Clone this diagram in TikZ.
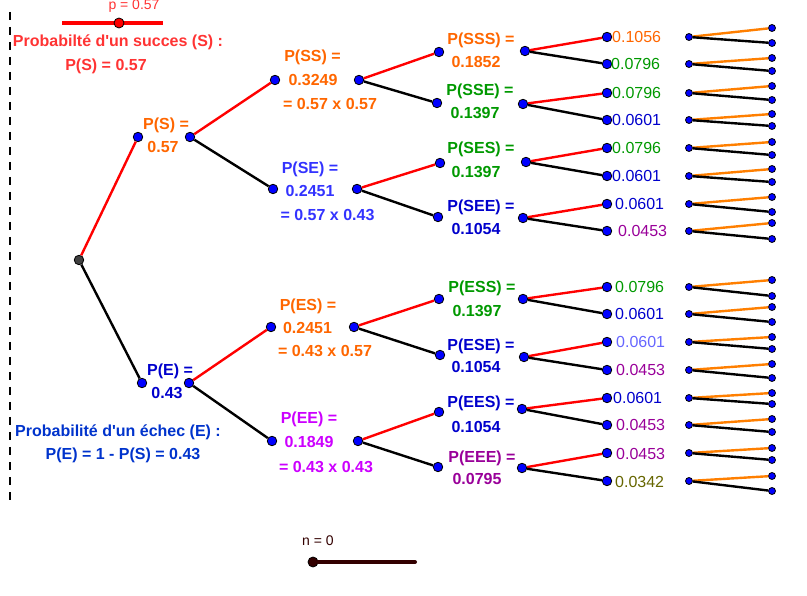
\documentclass[tikz,border=0pt]{standalone}
\usepackage{fontspec}
\setmainfont{Liberation Sans}[Ligatures=TeXOff]
\usepackage{tikz}
\usetikzlibrary{positioning}
\usepackage{xcolor}
\definecolor{ggRed}{RGB}{255,0,0}
\definecolor{txtRed}{RGB}{255,51,51}
\definecolor{ggOrange}{RGB}{255,102,0}
\definecolor{ggGreen}{RGB}{0,153,0}
\definecolor{ggBlue}{RGB}{0,0,204}
\definecolor{ggEchec}{RGB}{0,51,204}
\definecolor{ggViolet}{RGB}{51,51,255}
\definecolor{ggMagenta}{RGB}{204,0,255}
\definecolor{ggPurple}{RGB}{153,0,153}
\definecolor{ggLav}{RGB}{102,102,255}
\definecolor{ggOlive}{RGB}{102,102,0}
\definecolor{ggBrown}{RGB}{51,0,0}
\definecolor{ggLeaf}{RGB}{255,127,0}
\tikzset{pt/.style={circle,draw=black,fill=blue,line width=0.8pt,inner sep=0pt,minimum size=9.5pt}}
\tikzset{spt/.style={pt,minimum size=7pt}}
\tikzset{lab/.style={font=\bfseries\fontsize{16}{18}\selectfont,inner sep=0pt,anchor=base}}
\tikzset{val/.style={font=\fontsize{16}{18}\selectfont,inner sep=0pt,anchor=base west}}
\tikzset{small/.style={font=\fontsize{14}{16}\selectfont,inner sep=0pt,anchor=base}}
\tikzstyle{branchS}=[draw,ggRed,line width=2.4pt]
\tikzstyle{branchE}=[draw,black,line width=2.4pt]
\tikzstyle{leafS}=[draw,ggLeaf,line width=2.4pt]

\begin{document}
\begin{tikzpicture}[x=1pt,y=-1pt]
    \useasboundingbox (0,0) rectangle (807,596);
    % dashed border and sliders
    \draw[line width=2.5pt,dash pattern=on 8pt off 7pt] (10,12) -- (10,500);
    \coordinate (pa) at (62,23);
    \coordinate (pb) at (163,23);
    \draw[ggRed,line width=3.5pt] (pa) -- (pb);
    \node[pt,fill=ggRed,minimum size=10pt] (pknob) at (119,23) {};
    \node[small,txtRed] (plab) at (134,9.5) {p = 0.57};
    \coordinate (nb) at (415,562);
    \node[pt,fill=ggBrown,minimum size=10pt] (nknob) at (313,562) {};
    \draw[ggBrown,line width=4pt,line cap=round] (nknob) -- (nb);
    \node[small,ggBrown] (nlab) at (318,545) {n = 0};

    \node[lab,txtRed] (succ) at (118,47) {Probabilté d'un succes (S) :};
    \node[lab,txtRed] (succv) at (106,70.5) {P(S) = 0.57};
    \node[lab,ggEchec] (ech) at (118,436) {Probabilité d'un échec (E) :};
    \node[lab,ggEchec] (echv) at (123,459) {P(E) = 1 - P(S) = 0.43};

    % level 1
    \node[pt,fill=black!75] (root) at (79,260) {};
    \node[pt] (sL) at (138,137) {};
    \node[pt] (sR) at (190,137) {};
    \node[lab,ggOrange] at (166,130) {P(S) =};
    \node[lab,ggOrange] at (163,153) {0.57};
    \node[pt] (eL) at (142,383) {};
    \node[pt] (eR) at (189,383) {};
    \node[lab,ggBlue] at (170,376) {P(E) =};
    \node[lab,ggBlue] at (167,399) {0.43};
        \path[branchS] (root) -- (sL);
        \path[branchE] (root) -- (eL);

    % level 2
    \node[pt] (ssL) at (275,80) {};
    \node[pt] (ssR) at (359,80) {};
    \node[lab,ggOrange] at (312.5,62) {P(SS) =};
    \node[lab,ggOrange] at (313,86) {0.3249};
    \node[lab,ggOrange] at (330,110) {= 0.57 x 0.57};
    \node[pt] (seL) at (273,189) {};
    \node[pt] (seR) at (357,189) {};
    \node[lab,ggViolet] at (310,174) {P(SE) =};
    \node[lab,ggViolet] at (310,197) {0.2451};
    \node[lab,ggViolet] at (327.5,221) {= 0.57 x 0.43};
    \node[pt] (esL) at (271,327) {};
    \node[pt] (esR) at (354,327) {};
    \node[lab,ggOrange] at (308,311) {P(ES) =};
    \node[lab,ggOrange] at (307.5,334) {0.2451};
    \node[lab,ggOrange] at (325,357) {= 0.43 x 0.57};
    \node[pt] (eeL) at (272,441) {};
    \node[pt] (eeR) at (358,441) {};
    \node[lab,ggMagenta] at (309,424) {P(EE) =};
    \node[lab,ggMagenta] at (309,447) {0.1849};
    \node[lab,ggMagenta] at (326,472) {= 0.43 x 0.43};
        \path[branchS] (sR) -- (ssL);
        \path[branchE] (sR) -- (seL);
        \path[branchS] (eR) -- (esL);
        \path[branchE] (eR) -- (eeL);

    % level 3
    \node[pt] (sssL) at (439,52) {};
    \node[pt] (sssR) at (525,51) {};
    \node[lab,ggOrange] at (481,45) {P(SSS) =};
    \node[lab,ggOrange] at (476,68) {0.1852};
    \node[pt] (sseL) at (437,103) {};
    \node[pt] (sseR) at (523,104) {};
    \node[lab,ggGreen] at (480,96) {P(SSE) =};
    \node[lab,ggGreen] at (475,119) {0.1397};
    \node[pt] (sesL) at (440,163) {};
    \node[pt] (sesR) at (526,162) {};
    \node[lab,ggGreen] at (481,154) {P(SES) =};
    \node[lab,ggGreen] at (476,178) {0.1397};
    \node[pt] (seeL) at (438,217) {};
    \node[pt] (seeR) at (523,218) {};
    \node[lab,ggBlue] at (481,212) {P(SEE) =};
    \node[lab,ggBlue] at (476,235) {0.1054};
    \node[pt] (essL) at (439,299) {};
    \node[pt] (essR) at (523,299) {};
    \node[lab,ggGreen] at (482,293) {P(ESS) =};
    \node[lab,ggGreen] at (477,317) {0.1397};
    \node[pt] (eseL) at (440,355) {};
    \node[pt] (eseR) at (524,357) {};
    \node[lab,ggBlue] at (481,351) {P(ESE) =};
    \node[lab,ggBlue] at (476,373) {0.1054};
    \node[pt] (eesL) at (439,412) {};
    \node[pt] (eesR) at (522,409) {};
    \node[lab,ggBlue] at (481,408) {P(EES) =};
    \node[lab,ggBlue] at (476,432) {0.1054};
    \node[pt] (eeeL) at (438,467) {};
    \node[pt] (eeeR) at (522,468) {};
    \node[lab,ggPurple] at (482,462) {P(EEE) =};
    \node[lab,ggPurple] at (477,485) {0.0795};
        \path[branchS] (ssR) -- (sssL);
        \path[branchE] (ssR) -- (sseL);
        \path[branchS] (seR) -- (sesL);
        \path[branchE] (seR) -- (seeL);
        \path[branchS] (esR) -- (essL);
        \path[branchE] (esR) -- (eseL);
        \path[branchS] (eeR) -- (eesL);
        \path[branchE] (eeR) -- (eeeL);

    % levels 4 and 5
    \foreach \y/\v/\c/\lx/\a/\b [count=\i] in {
        37/0.1056/ggOrange/612/28/43, 64/0.0796/ggGreen/611/58/71,
        93/0.0796/ggGreen/612/86/100, 120/0.0601/ggBlue/612/114/126,
        148/0.0796/ggGreen/612/142/155, 176/0.0601/ggBlue/612/169/182,
        204/0.0601/ggBlue/615/197/212, 231/0.0453/ggPurple/618/223/239,
        287/0.0796/ggGreen/615/280/296, 314/0.0601/ggBlue/615/307/322,
        342/0.0601/ggLav/616/337/349, 370/0.0453/ggPurple/616/364/378,
        398/0.0601/ggBlue/613/393/404, 425/0.0453/ggPurple/616/419/432,
        453/0.0453/ggPurple/616/448/460, 481/0.0342/ggOlive/615/476/491}{
        \node[pt] (g\i) at (607,\y) {};
        \node[val,\c] at (\lx,\y+6) {\v};
        \node[spt] (f\i) at (689,\y) {};
        \node[spt] (fa\i) at (772,\a) {};
        \node[spt] (fb\i) at (772,\b) {};
            \path[leafS] (f\i) -- (fa\i);
            \path[branchE] (f\i) -- (fb\i);
    }
    \foreach \p/\i/\j in {sss/1/2, sse/3/4, ses/5/6, see/7/8,
        ess/9/10, ese/11/12, ees/13/14, eee/15/16}{
            \path[branchS] (\p R) -- (g\i);
            \path[branchE] (\p R) -- (g\j);
    }
\end{tikzpicture}
\end{document}
